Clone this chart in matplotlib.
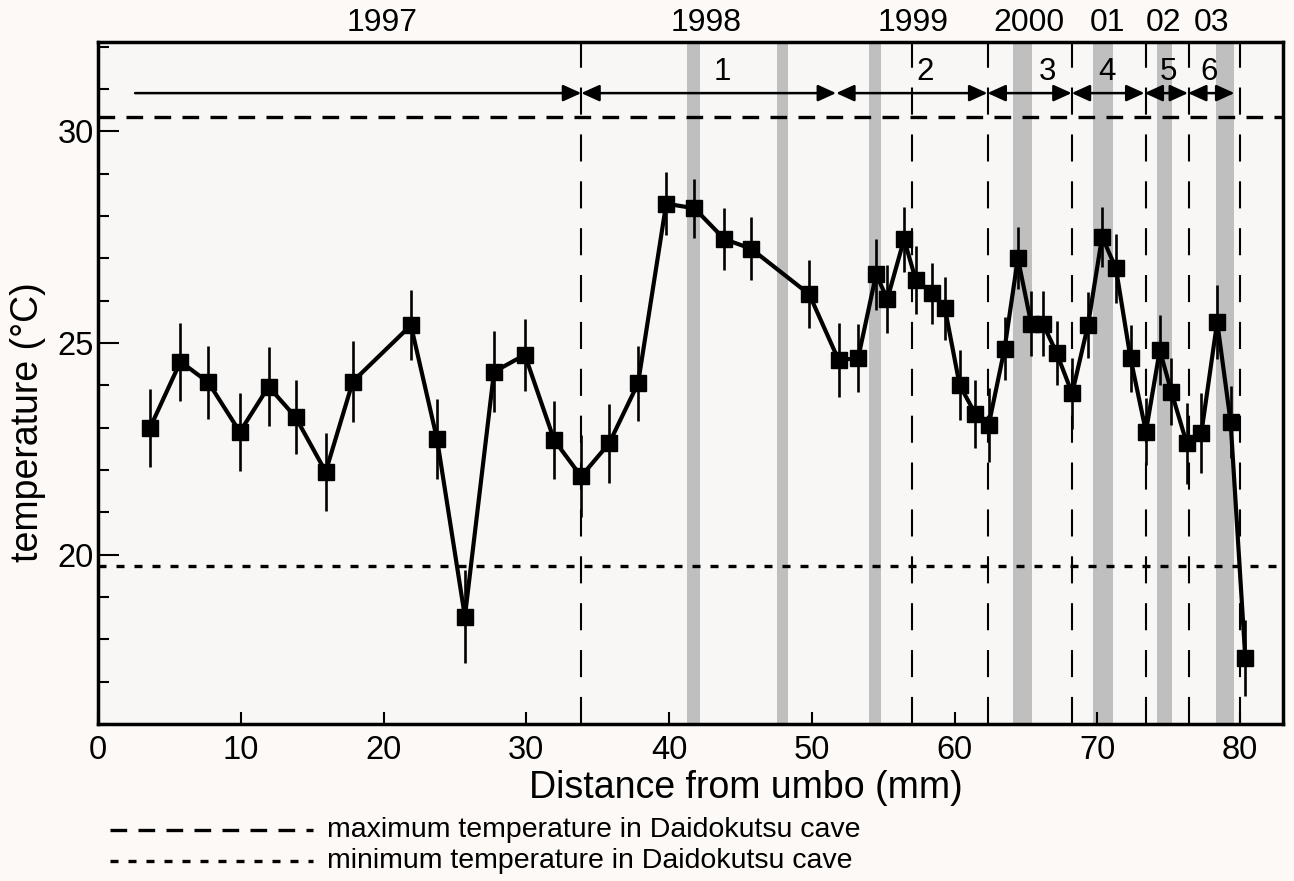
import matplotlib
matplotlib.use('Agg')
import matplotlib.pyplot as plt
from matplotlib.lines import Line2D
from matplotlib.ticker import MultipleLocator

plt.rcParams['font.family'] = ['Liberation Sans', 'DejaVu Sans']

# shell profile: distance from umbo (mm) vs. isotope temperature (degC)
distance = [3.65, 5.78, 7.73, 9.94, 11.95, 13.84, 15.95, 17.85, 21.92, 23.75,
            25.7, 27.74, 29.9, 31.95, 33.84, 35.8, 37.83, 39.8, 41.78, 43.88,
            45.73, 49.82, 51.87, 53.24, 54.5, 55.29, 56.46, 57.28, 58.45, 59.32,
            60.35, 61.46, 62.39, 63.5, 64.43, 65.36, 66.18, 67.15, 68.23, 69.34,
            70.33, 71.3, 72.32, 73.4, 74.37, 75.18, 76.26, 77.28, 78.39, 79.33,
            80.36]
temperature = [23.0, 24.56, 24.07, 22.9, 23.97, 23.25, 21.96, 24.09, 25.42, 22.73,
               18.54, 24.32, 24.72, 22.71, 21.85, 22.63, 24.05, 28.29, 28.18, 27.45,
               27.23, 26.15, 24.6, 24.64, 26.62, 26.04, 27.45, 26.49, 26.17, 25.82,
               24.01, 23.32, 23.07, 24.87, 27.0, 25.46, 25.46, 24.76, 23.81, 25.42,
               27.51, 26.76, 24.64, 22.91, 24.83, 23.85, 22.63, 22.87, 25.5, 23.14,
               17.56]
temp_err = [0.92, 0.92, 0.87, 0.92, 0.94, 0.88, 0.92, 0.96, 0.83, 0.94,
            1.1, 0.96, 0.85, 0.92, 0.97, 0.94, 0.88, 0.75, 0.7, 0.73,
            0.75, 0.8, 0.87, 0.8, 0.83, 0.8, 0.77, 0.8, 0.73, 0.75,
            0.83, 0.8, 0.87, 0.75, 0.73, 0.77, 0.77, 0.75, 0.83, 0.78,
            0.71, 0.81, 0.79, 0.8, 0.83, 0.79, 0.95, 0.94, 0.87, 0.85,
            0.9]

cave_max = 30.33
cave_min = 19.74

growth_lines = [33.85, 57.0, 62.35, 68.25, 73.4, 76.4, 80.0]
dark_bands = [(41.28, 42.15), (47.54, 48.3), (54.0, 54.87), (64.08, 65.45),
              (69.7, 71.1), (74.14, 75.24), (78.31, 79.56)]

year_labels = ['1997', '1998', '1999', '2000', '01', '02', '03']
year_pos = [19.9, 42.6, 57.1, 65.2, 70.7, 74.6, 78.0]

period_edges = [2.6, 33.85, 51.7, 62.3, 68.2, 73.3, 76.35, 79.6]
period_labels = ['1', '2', '3', '4', '5', '6']
period_pos = [43.7, 57.9, 66.5, 70.7, 75.0, 77.8]

bg = '#fcf9f6'
fig = plt.figure(figsize=(12.94, 8.81), dpi=100, facecolor=bg)
ax = fig.add_axes([0.0757, 0.178, 0.9158, 0.774])
ax.set_facecolor('#f8f7f5')

# dark growth bands
for x0, x1 in dark_bands:
    ax.axvspan(x0, x1, color='#aaaaaa', alpha=0.72, lw=0, zorder=0)

# annual boundaries
for x in growth_lines:
    ax.axvline(x, color='black', lw=1.5, dashes=(13, 9.5), zorder=1)

max_dash = (5.0, 3.4)
min_dash = (2.4, 3.0)
ax.axhline(cave_max, color='black', lw=2.4, dashes=max_dash, zorder=2, clip_on=False)
ax.axhline(cave_min, color='black', lw=2.4, dashes=min_dash, zorder=2)

ax.errorbar(distance, temperature, yerr=temp_err, fmt='none', ecolor='black',
            elinewidth=1.9, capsize=0, zorder=3)
ax.plot(distance, temperature, color='black', lw=3, marker='s', ms=12,
        mfc='black', mec='black', zorder=4)

# arrows for growth periods
arrow_y = 30.9
for i in range(len(period_edges) - 1):
    style = '-|>' if i == 0 else '<|-|>'
    ax.annotate('', xy=(period_edges[i + 1], arrow_y), xytext=(period_edges[i], arrow_y),
                arrowprops=dict(arrowstyle=style + ',head_length=0.55,head_width=0.25',
                                mutation_scale=20, color='black', lw=1.8,
                                shrinkA=0, shrinkB=0), zorder=5)

for lab, x in zip(period_labels, period_pos):
    ax.text(x, 31.4, lab, fontsize=22.5, ha='center', va='center', zorder=6)

for lab, x in zip(year_labels, year_pos):
    ax.text(x, 32.55, lab, fontsize=23, ha='center', va='center', clip_on=False)

ax.set_xlim(0, 83)
ax.set_ylim(16, 32.1)
ax.xaxis.set_major_locator(MultipleLocator(10))
ax.yaxis.set_major_locator(MultipleLocator(5))
ax.yaxis.set_minor_locator(MultipleLocator(1))
ax.tick_params(axis='x', direction='in', length=9, width=1.5, labelsize=23.5, pad=8)
ax.tick_params(axis='y', which='major', direction='in', length=15, width=1.5,
               labelsize=23.5, pad=3)
ax.tick_params(axis='y', which='minor', direction='in', length=8, width=1.5)
for sp in ax.spines.values():
    sp.set_linewidth(2.5)

ax.set_xlabel('Distance from umbo (mm)', fontsize=27)
ax.xaxis.set_label_coords(0.547, -0.094)
ax.xaxis.label.set_va('center')
ax.set_ylabel('temperature (°C)', fontsize=27)
ax.yaxis.set_label_coords(-0.059, 0.4435)
ax.yaxis.label.set_va('center')

# legend drawn below the plot
leg_rows = [(0.0579, max_dash, 'maximum temperature in Daidokutsu cave'),
            (0.0227, min_dash, 'minimum temperature in Daidokutsu cave')]
for y, dash, txt in leg_rows:
    fig.add_artist(Line2D([0.085, 0.242], [y, y], transform=fig.transFigure,
                          color='black', lw=2.4, dashes=dash))
    fig.text(0.2527, y, txt, fontsize=20.5, va='center', ha='left')

fig.savefig('out.png', dpi=100, facecolor=bg)
